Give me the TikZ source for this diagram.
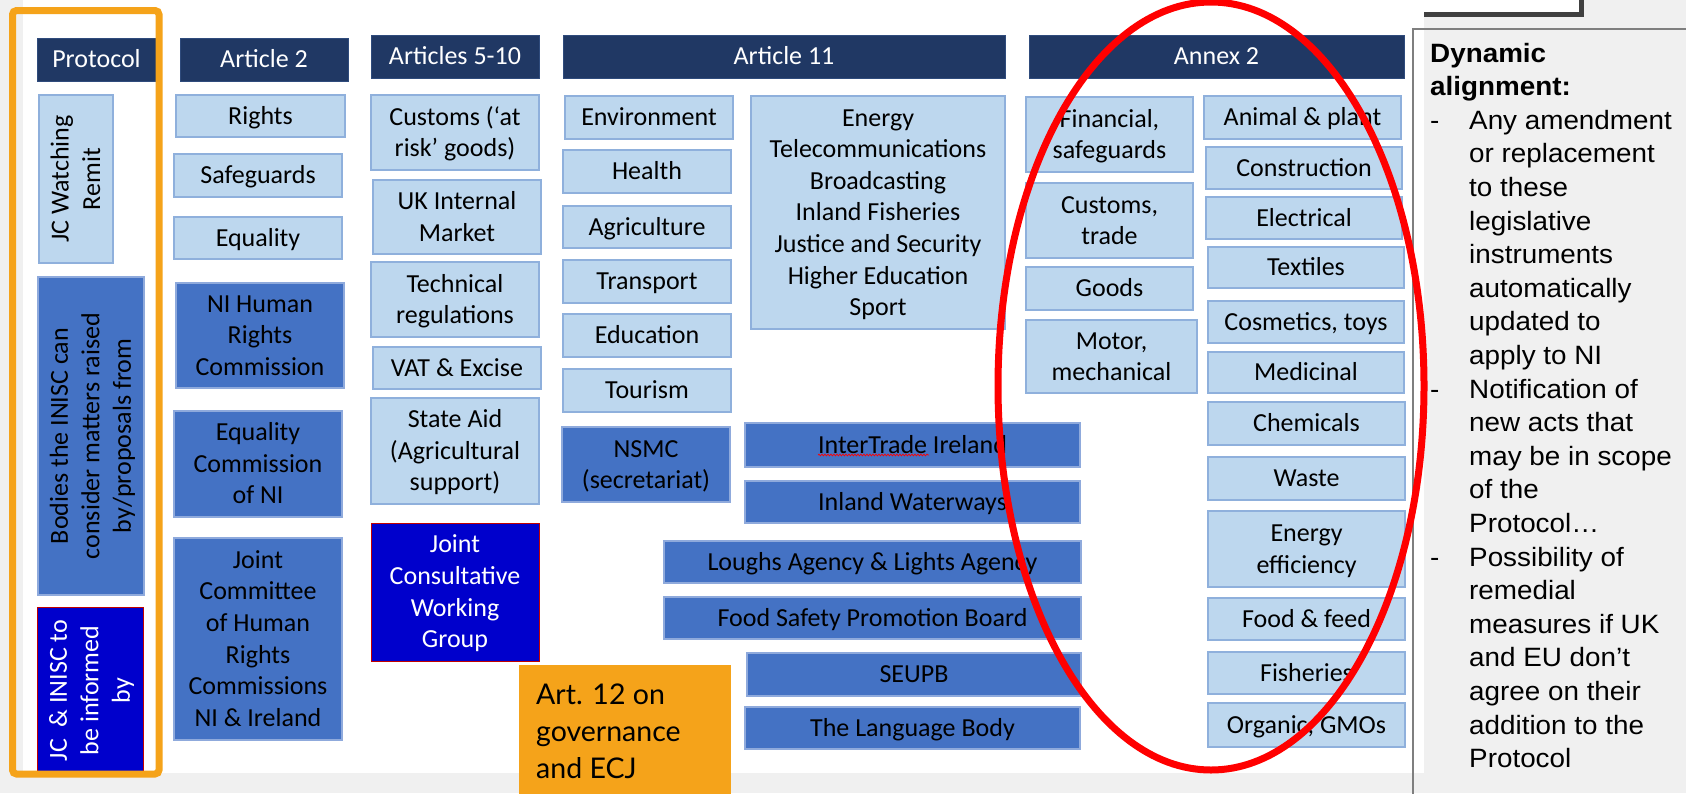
\documentclass[tikz,border=0pt]{standalone}
\usepackage{fontspec}
\setmainfont{Carlito}
\newfontfamily\panelfont[FakeStretch=1.05]{Liberation Sans}
\newfontfamily\gillfont{Lato}
\usetikzlibrary{decorations.pathmorphing}
\definecolor{bgray}{HTML}{F0F0F0}
\definecolor{navy}{HTML}{203864}
\definecolor{navyedge}{HTML}{2F4B7C}
\definecolor{lightfill}{HTML}{BDD7EE}
\definecolor{lightedge}{HTML}{8FB0DC}
\definecolor{medfill}{HTML}{4472C4}
\definecolor{mededge}{HTML}{8FAADC}
\definecolor{dkblue}{HTML}{0000CC}
\definecolor{dkedge}{HTML}{C00000}
\definecolor{orng}{HTML}{F5A31A}
\definecolor{panelgray}{HTML}{7F7F7F}
\definecolor{boxgray}{HTML}{404040}
\newcommand\boxfont{\fontsize{26}{31.6}\selectfont}
\newcommand\st{\rule[-0.276em]{0pt}{1.196em}}
\newcommand\bx[7]{\node[#2,minimum width={(#5)-(#3)},minimum height={(#6)-(#4)}] (#1) at ({((#3)+(#5))/2},{-((#4)+(#6))/2}) {\st #7\st};}
\newcommand\rbx[7]{\node[#2,rotate=90,minimum width={(#6)-(#4)},minimum height={(#5)-(#3)}] (#1) at ({((#3)+(#5))/2},{-((#4)+(#6))/2}) {\st #7\st};}
\tikzset{
  base box/.style={inner sep=0pt, outer sep=0pt, align=center, font=\boxfont},
  hd/.style={base box, fill=navy, draw=navyedge, line width=1pt, text=white},
  lb/.style={base box, fill=lightfill, draw=lightedge, line width=1.2pt, text=black},
  mb/.style={base box, fill=medfill, draw=mededge, line width=1.2pt, text=black},
  db/.style={base box, fill=dkblue, draw=dkedge, line width=0.8pt, text=white},
  ob/.style={inner sep=0pt, outer sep=0pt, fill=orng, draw=none},
  paneltext/.style={inner sep=0pt, anchor=base west, font=\panelfont\fontsize{26.5}{33.6}\selectfont, text=black},
  gilltext/.style={inner sep=0pt, anchor=base west, font=\gillfont\fontsize{28.5}{37}\selectfont, text=black},
}
\begin{document}
\begin{tikzpicture}[x=1pt,y=1pt]
\useasboundingbox (0,0) rectangle (1686,-793);
\fill[bgray] (0,0) rectangle (1686,-793);
% slide area
\fill[white] (23,0) rectangle (1424,-773);
% headers
\bx{hProt}{hd}{37}{38}{156}{81}{Protocol}
\bx{hArt2}{hd}{180}{38}{348}{81}{Article 2}
\bx{hArt5}{hd}{371}{35}{539}{78}{Articles 5-10}
\bx{hArt11}{hd}{563}{35}{1005}{78}{Article 11}
\bx{hAnx}{hd}{1029}{35}{1404}{78}{Annex 2}
% protocol column
\rbx{jcw}{lb}{39}{95}{113}{263}{JC Watching\\Remit}
\rbx{bod}{mb}{38}{277}{144}{595}{Bodies the INISC can\\consider matters raised\\by/proposals from}
\rbx{jci}{db}{37}{607}{143}{774}{JC\ \ \& INISC to\\be informed\\by}
% article 2
\bx{rights}{lb}{176}{95}{345}{137}{Rights}
\bx{safe}{lb}{174}{154}{342}{197}{Safeguards}
\bx{equal}{lb}{174}{217}{342}{259}{Equality}
\bx{nihrc}{mb}{176}{283}{344}{388}{NI Human\\Rights\\Commission}
\bx{ecni}{mb}{174}{411}{342}{517}{Equality\\Commission\\of NI}
\bx{jchr}{mb}{174}{538}{342}{740}{Joint\\Committee\\of Human\\Rights\\Commissions\\NI \& Ireland}
% articles 5-10
\bx{cust}{lb}{371}{95}{539}{170}{Customs (‘at\\risk’ goods)}
\bx{ukim}{lb}{373}{180}{541}{254}{UK Internal\\Market}
\bx{tech}{lb}{371}{262}{539}{337}{Technical\\regulations}
\bx{vat}{lb}{373}{347}{541}{389}{VAT \& Excise}
\bx{said}{lb}{371}{398}{539}{504}{State Aid\\(Agricultural\\support)}
\bx{jcwg}{db}{371}{523}{539}{661}{Joint\\Consultative\\Working\\Group}
% article 11
\bx{env}{lb}{565}{96}{733}{139}{Environment}
\bx{health}{lb}{563}{150}{731}{193}{Health}
\bx{agri}{lb}{563}{206}{731}{248}{Agriculture}
\bx{transp}{lb}{563}{260}{731}{303}{Transport}
\bx{educ}{lb}{563}{314}{731}{357}{Education}
\bx{tour}{lb}{563}{369}{731}{412}{Tourism}
\bx{energy}{lb}{751}{96}{1005}{329}{Energy\\Telecommunications\\Broadcasting\\Inland Fisheries\\Justice and Security\\Higher Education\\Sport}
\bx{nsmc}{mb}{562}{427}{730}{502}{NSMC\\(secretariat)}
\bx{itr}{mb}{745}{423}{1080}{467}{InterTrade Ireland}
\bx{iww}{mb}{745}{481}{1080}{523}{Inland Waterways}
\bx{lough}{mb}{664}{541}{1081}{583}{Loughs Agency \& Lights Agency}
\bx{fspb}{mb}{664}{597}{1081}{639}{Food Safety Promotion Board}
\bx{seupb}{mb}{747}{653}{1081}{696}{SEUPB}
\bx{lang}{mb}{745}{707}{1080}{749}{The Language Body}
\draw[red, line width=0.7pt, decorate, decoration={snake, amplitude=0.9pt, segment length=3pt}] (818,-455) -- (929,-455);
% art 12
\bx{art12}{ob}{519}{665}{731}{800}{}
\foreach \t [count=\i from 0] in {Art. 12 on, governance, and ECJ}
  \node[gilltext] (a12l\i) at (536,{-(704+37*\i)}) {\t};
% annex 2
\bx{fin}{lb}{1026}{97}{1193}{172}{Financial,\\safeguards}
\bx{cutr}{lb}{1026}{183}{1193}{258}{Customs,\\trade}
\bx{goods}{lb}{1026}{267}{1193}{310}{Goods}
\bx{motor}{lb}{1026}{320}{1197}{393}{Motor,\\mechanical}
\bx{anim}{lb}{1204}{96}{1401}{139}{Animal \& plant}
\bx{constr}{lb}{1206}{147}{1402}{189}{Construction}
\bx{elec}{lb}{1206}{197}{1402}{239}{Electrical}
\bx{texti}{lb}{1208}{247}{1404}{288}{Textiles}
\bx{cosm}{lb}{1208}{301}{1404}{343}{Cosmetics, toys}
\bx{medic}{lb}{1208}{352}{1404}{393}{Medicinal}
\bx{chem}{lb}{1208}{402}{1405}{445}{Chemicals}
\bx{waste}{lb}{1208}{457}{1405}{500}{Waste}
\bx{eneff}{lb}{1208}{511}{1405}{587}{Energy\\efficiency}
\bx{food}{lb}{1208}{598}{1405}{640}{Food \& feed}
\bx{fish}{lb}{1208}{652}{1405}{694}{Fisheries}
\bx{org}{lb}{1208}{703}{1405}{747}{Organic, GMOs}
% text panel
\draw[panelgray, line width=1.5pt] (1413,-800) -- (1413,-29) -- (1690,-29);
\node[paneltext, font=\panelfont\bfseries\fontsize{26.5}{33.6}\selectfont] (pt0) at (1430,-62) {Dynamic};
\node[paneltext, font=\panelfont\bfseries\fontsize{26.5}{33.6}\selectfont] (pt1) at (1430,{-(62+33.6)}) {alignment:};
\foreach \k in {2,10,15}
  \node[paneltext] (dash\k) at (1430,{-(62+33.6*\k)}) {-};
\foreach \t [count=\i from 2] in {Any amendment, or replacement, to these, legislative, instruments, automatically, updated to, apply to NI, Notification of, new acts that, may be in scope, of the, Protocol…, Possibility of, remedial, measures if UK, and EU don’t, agree on their, addition to the, Protocol}
  \node[paneltext] (pt\i) at (1469,{-(62+33.6*\i)}) {\t};
% top-right box (only its lower right corner shows)
\fill[white] (1424,0) rectangle (1581,-14.5);
\draw[boxgray, line width=5pt] (1424,-14.5) -- (1581,-14.5) -- (1581,2);
% red ellipse
\draw[red, line width=7pt] (1211,-386) ellipse [x radius=213, y radius=384];
% orange frame
\draw[orng, line width=7pt, rounded corners=4pt] (12.5,-10.5) rectangle (159,-774);
\end{tikzpicture}
\end{document}
